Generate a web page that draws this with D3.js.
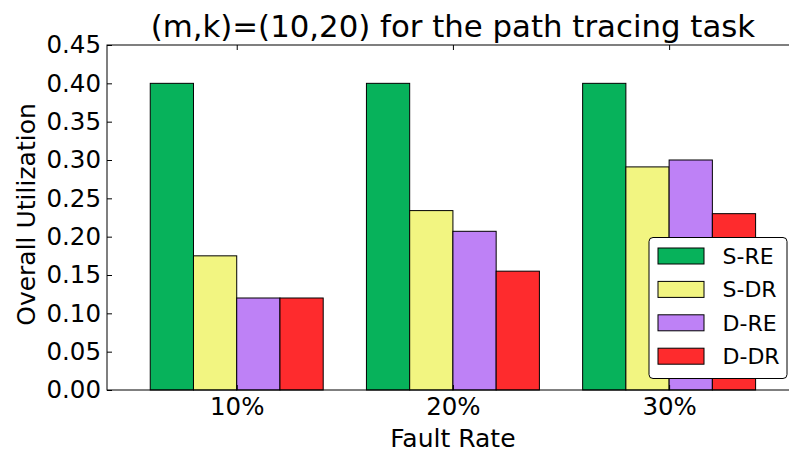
<!DOCTYPE html>
<html>
<head>
<meta charset="utf-8">
<script src="https://cdn.jsdelivr.net/npm/d3@7/dist/d3.min.js"></script>
<style>
  html, body { margin: 0; padding: 0; background: #fff; }
  svg { display: block; font-family: "DejaVu Sans", sans-serif; }
</style>
</head>
<body>
<svg id="chart" width="789" height="452"></svg>
<script>
// Fault-rate groups along the x axis
const categories = ["10%", "20%", "30%"];
// Series names, in legend order
const seriesNames = ["S-RE", "S-DR", "D-RE", "D-DR"];
// Overall utilization per series, one value per fault rate
const sRE = [0.40, 0.40, 0.40];
const sDR = [0.175, 0.234, 0.291];
const dRE = [0.12, 0.207, 0.30];
const dDR = [0.12, 0.155, 0.23];
const yTicks = [0.00, 0.05, 0.10, 0.15, 0.20, 0.25, 0.30, 0.35, 0.40, 0.45];
const seriesColors = ["#07b25b", "#f2f581", "#be81f6", "#fe2b2d"];

const seriesValues = [sRE, sDR, dRE, dDR];

const svg = d3.select("#chart");
const W = 789, H = 452;
svg.append("rect").attr("width", W).attr("height", H).attr("fill", "#fff");

const plotLeft = 107, plotTop = 45, plotBottom = 390;
const step = 216.2;
const plotRight = plotLeft + 3.2 * step;

// Group index scale: groups sit at 0,1,2 with margins of 0.6 on each side
const x = d3.scaleLinear().domain([-0.6, 2.6]).range([plotLeft, plotRight]);
const y = d3.scaleLinear().domain([0, 0.45]).range([plotBottom, plotTop]);
const barW = 0.2;

const plot = svg.append("g");

// Bars: each series offset within its group
seriesValues.forEach((vals, s) => {
  plot.selectAll(null)
    .data(vals)
    .enter()
    .append("rect")
    .attr("x", (d, i) => x(i - 0.4 + s * barW))
    .attr("y", d => y(d))
    .attr("width", x(barW) - x(0))
    .attr("height", d => y(0) - y(d))
    .attr("fill", seriesColors[s])
    .attr("stroke", "#000")
    .attr("stroke-width", 1);
});

// Frame (spines)
svg.append("rect")
  .attr("x", plotLeft).attr("y", plotTop)
  .attr("width", plotRight - plotLeft).attr("height", plotBottom - plotTop)
  .attr("fill", "none").attr("stroke", "#000").attr("stroke-width", 1);

const tickLen = 5;
const tickFont = 24.5;

// Y axis with inward ticks on both sides
const yAxis = d3.axisLeft(y).tickValues(yTicks).tickFormat(d3.format(".2f"))
  .tickSizeInner(-tickLen).tickSizeOuter(0).tickPadding(6);
const gy = svg.append("g").attr("transform", `translate(${plotLeft},0)`).call(yAxis);
gy.select(".domain").remove();
gy.selectAll("text").attr("font-size", tickFont).attr("fill", "#000")
  .attr("font-family", "DejaVu Sans");
gy.selectAll("line").attr("stroke", "#000");

const yAxisR = d3.axisRight(y).tickValues(yTicks).tickFormat("")
  .tickSizeInner(-tickLen).tickSizeOuter(0);
const gyr = svg.append("g").attr("transform", `translate(${plotRight},0)`).call(yAxisR);
gyr.select(".domain").remove();
gyr.selectAll("line").attr("stroke", "#000");

// X axis with category labels at group centres
const xAxis = d3.axisBottom(x).tickValues([0, 1, 2]).tickFormat(i => categories[i])
  .tickSizeInner(-tickLen).tickSizeOuter(0).tickPadding(8);
const gx = svg.append("g").attr("transform", `translate(0,${plotBottom})`).call(xAxis);
gx.select(".domain").remove();
gx.selectAll("text").attr("font-size", tickFont).attr("fill", "#000")
  .attr("font-family", "DejaVu Sans");
gx.selectAll("line").attr("stroke", "#000");

const xAxisT = d3.axisTop(x).tickValues([0, 1, 2]).tickFormat("")
  .tickSizeInner(-tickLen).tickSizeOuter(0);
const gxt = svg.append("g").attr("transform", `translate(0,${plotTop})`).call(xAxisT);
gxt.select(".domain").remove();
gxt.selectAll("line").attr("stroke", "#000");

// Title and axis labels
svg.append("text")
  .attr("x", (plotLeft + plotRight) / 2).attr("y", 37)
  .attr("text-anchor", "middle").attr("font-size", 30.8).attr("fill", "#000")
  .text("(m,k)=(10,20) for the path tracing task");

svg.append("text")
  .attr("x", (plotLeft + plotRight) / 2).attr("y", 447)
  .attr("text-anchor", "middle").attr("font-size", 25).attr("fill", "#000")
  .text("Fault Rate");

svg.append("text")
  .attr("transform", `translate(35,214.5) rotate(-90)`)
  .attr("text-anchor", "middle").attr("font-size", 25).attr("fill", "#000")
  .text("Overall Utilization");

// Legend
const lg = svg.append("g");
lg.append("rect")
  .attr("x", 649).attr("y", 237.5).attr("width", 138).attr("height", 141)
  .attr("rx", 4).attr("fill", "#fff").attr("stroke", "#000").attr("stroke-width", 1);
seriesNames.forEach((name, s) => {
  const cy = 256 + s * 33.4;
  lg.append("rect")
    .attr("x", 658).attr("y", cy - 8).attr("width", 46).attr("height", 16)
    .attr("fill", seriesColors[s]).attr("stroke", "#000").attr("stroke-width", 1);
  lg.append("text")
    .attr("x", 722.5).attr("y", cy + 8)
    .attr("font-size", 22).attr("fill", "#000")
    .text(name);
});
</script>
</body>
</html>
